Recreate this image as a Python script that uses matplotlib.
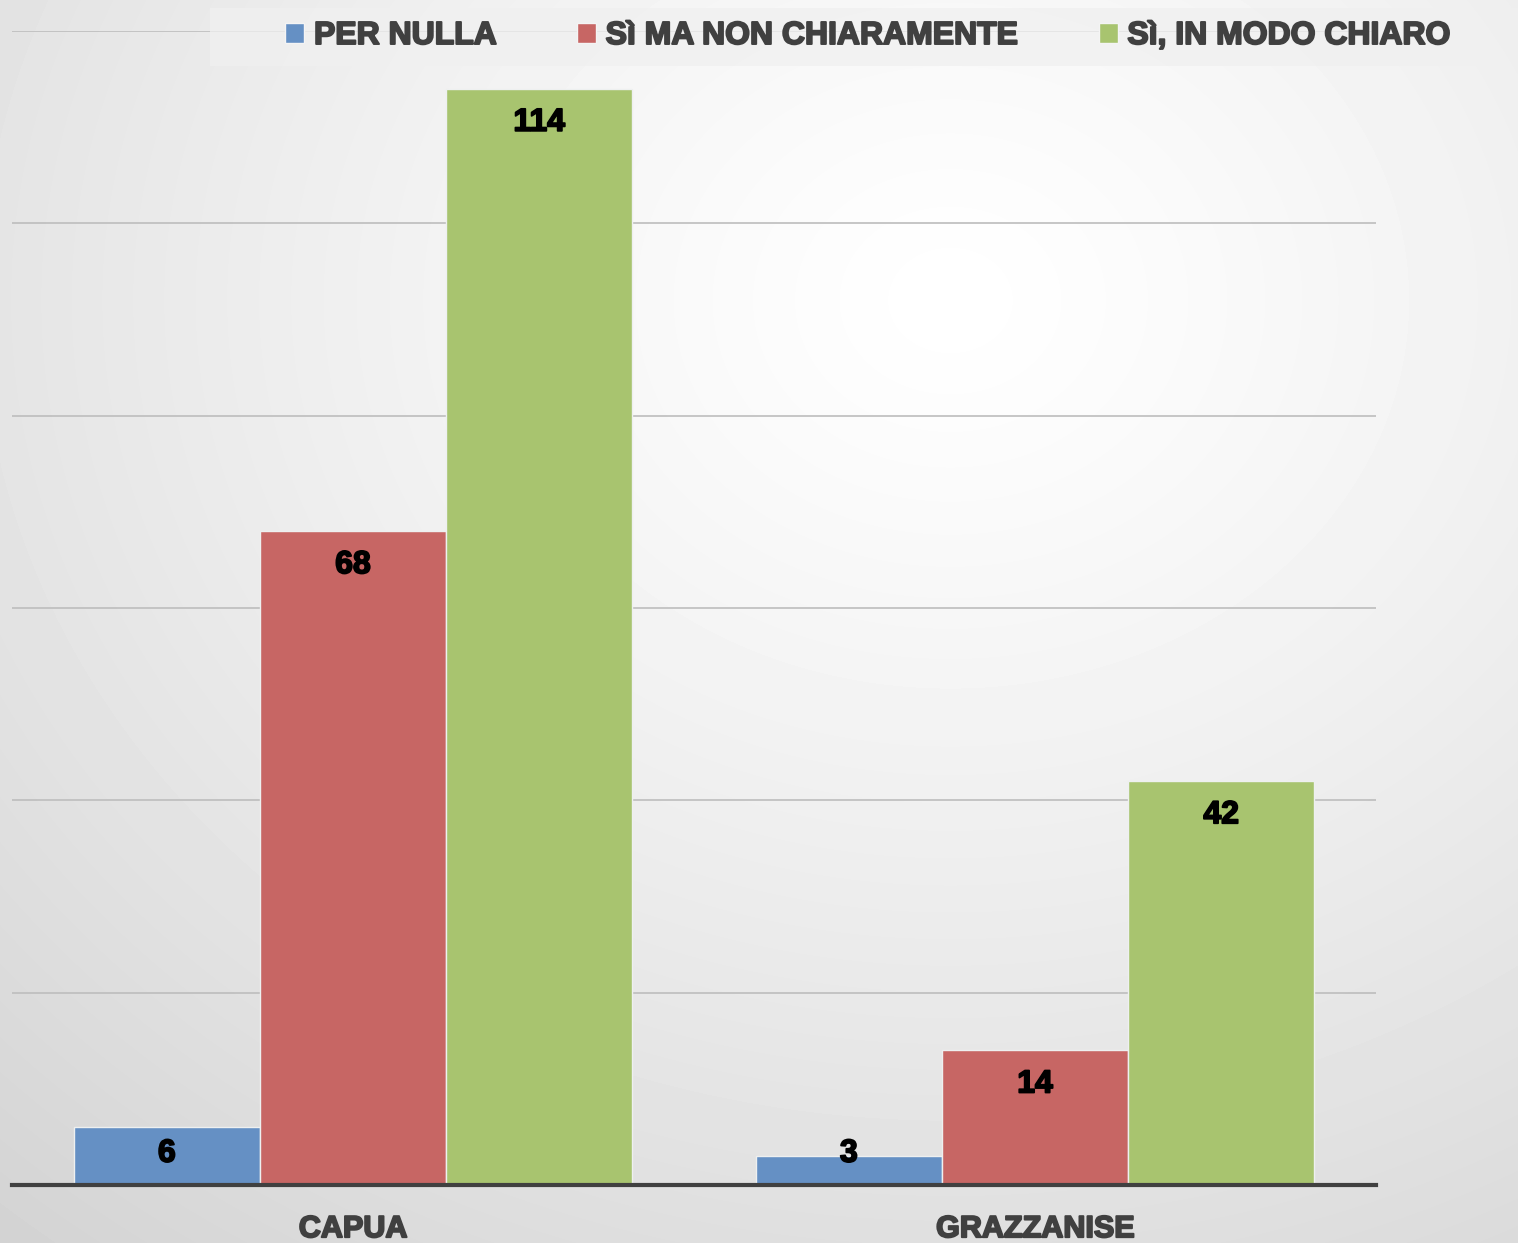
import numpy as np
import matplotlib
matplotlib.use("Agg")
import matplotlib.pyplot as plt
from matplotlib.patches import Patch, Rectangle
import matplotlib.patheffects as pe

categories = ["CAPUA", "GRAZZANISE"]
series_names = ["PER NULLA", "Sì MA NON CHIARAMENTE", "Sì, IN MODO CHIARO"]
per_nulla = [6, 3]
si_ma_non = [68, 14]
si_chiaro = [114, 42]
colors = ["#6590c4", "#c76664", "#a8c46f"]

W, H = 1518, 1243
fig = plt.figure(figsize=(W / 100, H / 100), dpi=100)

# radial grey background
bg = fig.add_axes([0, 0, 1, 1], zorder=-10)
yy, xx = np.mgrid[0:H, 0:W]
d = np.sqrt(((xx - 950) / 1300.0) ** 2 + ((yy - 300) / 1100.0) ** 2)
shade = 1.0 - 0.15 * d ** 1.2
bg.imshow(shade, cmap="gray", vmin=0, vmax=1, aspect="auto", interpolation="bilinear")
bg.axis("off")

ax = fig.add_axes([12 / W, 1 - 1185 / H, 1364 / W, 1154 / H])
ax.set_facecolor("none")

x = np.arange(len(categories))
w = 0.273
data = [per_nulla, si_ma_non, si_chiaro]
stroke = [pe.withStroke(linewidth=1.3, foreground="black")]
for i, vals in enumerate(data):
    bars = ax.bar(x + (i - 1) * w, vals, w, color=colors[i], edgecolor="#eef0f0",
                  linewidth=1, zorder=3)
    for b, v in zip(bars, vals):
        ypos = max(v - 3.55, 3.25)
        ax.text(b.get_x() + b.get_width() / 2, ypos, str(v), ha="center", va="center",
                fontsize=23, fontweight="bold", family="Liberation Sans", color="black",
                zorder=4, path_effects=stroke)

ax.set_xlim(-0.5, 1.5)
ax.set_ylim(0, 120)
ax.set_yticks(np.arange(0, 121, 20))
ax.set_yticklabels([])
ax.yaxis.grid(True, color="#bdbdbd", linewidth=1.2, zorder=0)
ax.set_axisbelow(True)
ax.tick_params(axis="both", length=0)
ax.set_xticks(x)
ax.set_xticklabels(categories, fontsize=22, fontweight="bold", family="Liberation Sans",
                   color="#404040")
ax.tick_params(axis="x", pad=21)
for lab in ax.get_xticklabels():
    lab.set_path_effects([pe.withStroke(linewidth=1.4, foreground="#404040")])
for s in ["top", "right", "left"]:
    ax.spines[s].set_visible(False)
ax.spines["bottom"].set_color("#404040")
ax.spines["bottom"].set_linewidth(3)
ax.spines["bottom"].set_zorder(5)

# legend box
fig.patches.append(Rectangle((210 / W, 1 - 66 / H), (W - 210) / W, 58 / H,
                             transform=fig.transFigure, facecolor="#f0f0f0",
                             edgecolor="none", alpha=0.75, zorder=1))
handles = [Patch(facecolor=c, edgecolor="#f4f4f4") for c in colors]
leg = fig.legend(handles, series_names, loc="center", bbox_to_anchor=(868 / W, 1 - 36 / H),
                 ncol=3, frameon=False, handlelength=0.6, handleheight=0.6,
                 handletextpad=0.3, columnspacing=2.5,
                 prop={"family": "Liberation Sans", "weight": "bold", "size": 23})
for t in leg.get_texts():
    t.set_color("#404040")
    t.set_path_effects([pe.withStroke(linewidth=1.4, foreground="#404040")])

fig.savefig("out.png", dpi=100)
